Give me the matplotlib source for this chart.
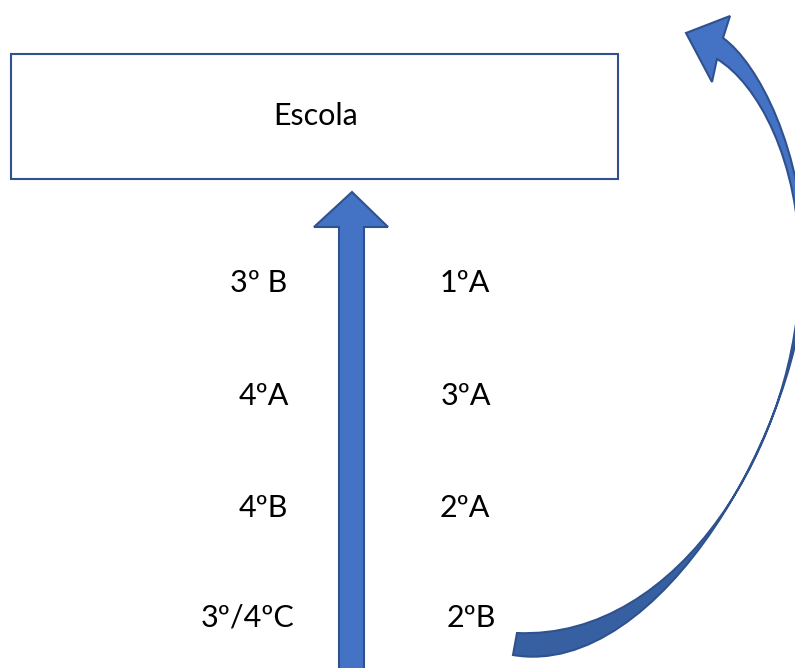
import matplotlib
matplotlib.use("Agg")
import matplotlib.pyplot as plt
from matplotlib.path import Path
from matplotlib.patches import PathPatch, Rectangle, Polygon

# ---- content ----
title_text = "Escola"
left_labels = ["3º B", "4ºA", "4ºB", "3º/4ºC"]
right_labels = ["1ºA", "3ºA", "2ºA", "2ºB"]

# ---- layout (pixel coordinates, y downward) ----
W, H = 795, 668
row_baselines = [292, 405, 517, 627]
left_cx = [258.5, 263.5, 263, 247.5]
right_cx = [465, 465.5, 464.5, 471]

FILL = "#4472C4"
FILL_DARK = "#3760A3"
EDGE = "#2F528F"
FS = 22

fig = plt.figure(figsize=(W / 100, H / 100), dpi=100)
ax = fig.add_axes([0, 0, 1, 1])
ax.set_xlim(0, W)
ax.set_ylim(H, 0)
ax.axis("off")

# Box
ax.add_patch(Rectangle((11, 54), 607, 125, facecolor="white", edgecolor=EDGE, lw=1.5))
ax.text(316, 125, title_text, ha="center", va="baseline", fontsize=FS, family="Lato")

# Straight up arrow
up = [(339, 690), (339, 227), (314, 227), (352, 192), (388, 227), (364, 227), (364, 690)]
ax.add_patch(Polygon(up, closed=True, facecolor=FILL, edgecolor=EDGE, lw=1.5))

# Labels
for lab, x, y in zip(left_labels, left_cx, row_baselines):
    ax.text(x, y, lab, ha="center", va="baseline", fontsize=FS, family="Lato")
for lab, x, y in zip(right_labels, right_cx, row_baselines):
    ax.text(x, y, lab, ha="center", va="baseline", fontsize=FS, family="Lato")

# Curved arrow: lower (dark) part
M, L, C, Z = Path.MOVETO, Path.LINETO, Path.CURVE4, Path.CLOSEPOLY
lower_v = [(517, 633), (513, 655),
           (660, 680), (805, 420), (805, 268),
           (800, 268),
           (800, 440), (680, 640), (517, 633),
           (517, 633)]
lower_c = [M, L, C, C, C, L, C, C, C, Z]
ax.add_patch(PathPatch(Path(lower_v, lower_c), facecolor=FILL_DARK, edgecolor=EDGE, lw=1.5))

upper_v = [(805, 268),
           (805, 150), (757, 62), (723, 38),
           (730, 16), (686, 33), (712, 82), (717, 59),
           (757, 83), (800, 160), (800, 268),
           (805, 268)]
upper_c = [M, C, C, C, L, L, L, L, C, C, C, Z]
ax.add_patch(PathPatch(Path(upper_v, upper_c), facecolor=FILL, edgecolor=EDGE, lw=1.5))

fig.savefig("out.png", dpi=100, facecolor="white")
